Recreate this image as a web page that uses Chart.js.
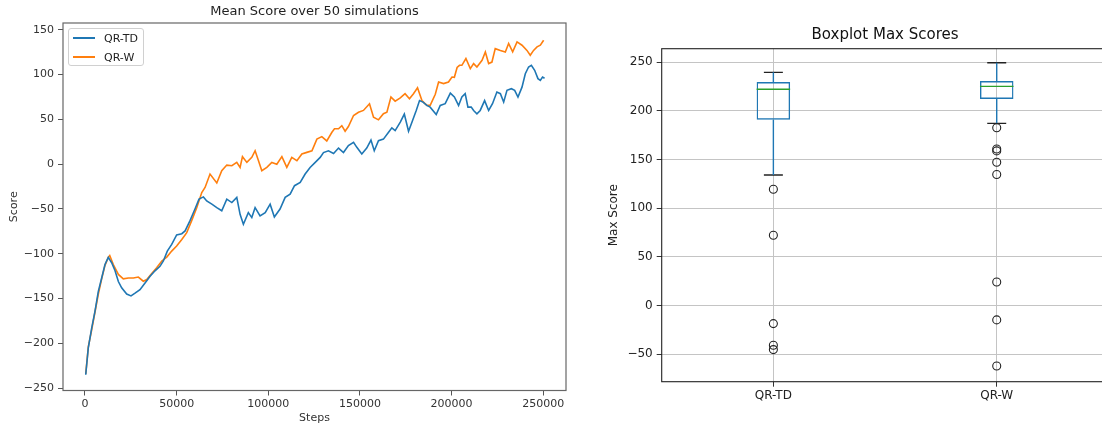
<!DOCTYPE html>
<html>
<head>
<meta charset="utf-8">
<script src="https://cdn.jsdelivr.net/npm/chart.js@4.4.1/dist/chart.umd.min.js"></script>
<style>
  html, body { margin: 0; padding: 0; background: #fff; overflow: hidden; }
  body { width: 1102px; height: 428px; position: relative; font-family: "DejaVu Sans", sans-serif; }
  canvas { position: absolute; top: 0; }
  #scoreChart { left: 0; }
  #boxChart { left: 590px; }
  .legend { position: absolute; left: 68px; top: 28px; width: 74px; height: 36px; border: 1px solid #d0d0d0;
            border-radius: 3px; background: rgba(255,255,255,0.8); font-size: 11px; color: #222; }
  .legend div { position: absolute; left: 4px; height: 13px; line-height: 13px; white-space: nowrap; }
  .legend span { display: inline-block; width: 22px; height: 1.6px; vertical-align: middle; margin-right: 9px; position: relative; top: -1px; }
</style>
</head>
<body>
<canvas id="scoreChart" width="590" height="428"></canvas>
<canvas id="boxChart" width="530" height="428"></canvas>
<div class="legend" id="legend"></div>
<script>
// mean score curves
const seriesNames = ["QR-TD", "QR-W"];
const seriesColors = ["#1f77b4", "#ff7f0e"];

const tdSteps = [400, 1800, 3650, 5460, 7270, 9100, 10900, 12700, 14550, 16400, 18200, 20000, 22750, 25100, 27300,
  30000, 32750, 35500, 38200, 40900, 42750, 44900, 47300, 50000, 52800, 54600, 57300, 60000, 62200, 64600, 66400,
  69200, 71900, 74600, 77350, 80100, 82800, 84600, 86400, 89100, 91000, 92800, 95500, 98300, 101000, 103300, 106400,
  109200, 111900, 114300, 117400, 120100, 122800, 125600, 128300, 130100, 132800, 135600, 138300, 141000, 143700,
  146500, 148300, 151000, 153700, 156000, 157800, 160100, 162800, 165600, 167400, 169200, 172000, 174200, 176500,
  178400, 180700, 182500, 184400, 186500, 188300, 191600, 193800, 196500, 199300, 201500, 203800, 205600, 207400,
  208900, 210700, 212000, 213800, 215600, 218000, 220200, 222300, 224700, 226600, 228400, 230200, 232600, 234400,
  236200, 238400, 240200, 242000, 243500, 245300, 247100, 248400, 249600, 250700];
const tdScores = [-235, -205, -183, -164, -142, -127, -112, -104, -110, -119, -131, -138, -145, -147, -144,
  -140, -132.5, -125, -119, -114, -108, -97, -89.5, -79, -77.6, -74.5, -63, -50, -39, -36.5, -41,
  -44.6, -48.4, -52, -39, -42.8, -37, -56, -67, -54, -59.6, -48.4, -57.7, -54, -44.6, -58.9, -50,
  -37, -33.4, -24, -20.4, -11, -3.6, 2, 7.6, 13, 15, 12, 18, 13, 20.7,
  24.4, 18.8, 11.4, 18, 27, 15, 26.3, 28, 35.6, 40.6, 37.5, 47, 56, 36.8,
  47, 60, 71, 69.3, 65.6, 63.7, 55.5, 65.6, 67.5, 79.4, 75, 65.6, 75, 78.7,
  63.7, 63.7, 60, 56.3, 60, 71, 60, 67.5, 80.5, 78.7, 69.3, 82.4, 84.3, 82.4,
  75, 86, 101, 108.5, 110.4, 104.8, 95.5, 93.6, 97.3, 96];

const wSteps = [400, 1800, 3650, 5460, 7270, 9100, 10900, 12700, 13500, 15450, 18200, 20900, 23650, 26400, 29100,
  31800, 33700, 36400, 39100, 41900, 44600, 47300, 50000, 52800, 55500, 58200, 61000, 63700, 65500, 68200, 71900,
  74600, 77350, 80100, 82800, 84600, 85900, 88300, 91000, 92800, 94600, 96450, 99200, 101900, 104650, 107400,
  110100, 112800, 115600, 118300, 121000, 123800, 126500, 129200, 131900, 134700, 136100, 138300, 140100, 141900,
  143700, 146500, 149200, 151900, 155200, 157400, 160100, 162800, 164700, 166900, 169200, 172000, 174600, 177000,
  179200, 181400, 183800, 186500, 188300, 191100, 192900, 195600, 198300, 200200, 201500, 203000, 204300, 205600,
  207800, 210200, 212000, 213800, 216600, 218400, 220200, 222000, 223800, 226600, 229300, 231100, 233300, 235700,
  238400, 241100, 242900, 244700, 246600, 248400, 250200];
const wScores = [-234, -204, -185, -165, -145, -128, -113, -104, -102, -112, -123, -128, -127, -127, -126,
  -130.6, -128.7, -122, -115.6, -108, -103.7, -97, -91.4, -84, -76.4, -63, -48.4, -31.6, -26, -11, -21,
  -7.3, -1, -1.7, 2, -3.6, 8.4, 2, 7.6, 15, 4, -7.3, -3.6, 2, 0, 8.4,
  -3.6, 7.6, 4, 11.4, 13.2, 15, 28, 30.8, 26, 35.6, 39.5, 39.5, 43, 36.8,
  42, 54.4, 58, 60, 67.5, 52.5, 49.5, 56.3, 58, 75, 70.4, 74, 78.7, 73,
  78.7, 85.4, 71, 65.6, 65.6, 78, 91.7, 90, 91.7, 97.3, 97, 108, 110.4, 110.4,
  118, 106.7, 112.3, 108.5, 116, 125.3, 112.3, 114, 129, 127, 125.3, 134.7, 125.3, 136.5,
  132.8, 127, 121.6, 127, 131, 132.8, 138.4];

const stepTicks = [0, 50000, 100000, 150000, 200000, 250000];
const scoreTicks = [-250, -200, -150, -100, -50, 0, 50, 100, 150];

// max score distribution per method
const methods = ["QR-TD", "QR-W"];
const whiskerLow = [134.2, 187.3];
const q1 = [191, 212.3];
const median = [222.3, 225.3];
const q3 = [229.8, 230.8];
const whiskerHigh = [239.7, 249.6];
const tdOutliers = [119.5, 72.3, -18.5, -40.7, -45.2];
const wOutliers = [182.8, 161, 159, 147.3, 134.8, 24.3, -14.7, -62];
const maxTicks = [-50, 0, 50, 100, 150, 200, 250];

const FONT = "DejaVu Sans";
const boxWidth = 0.15;
const capWidth = 0.085;

const framePlugin = {
  id: "frame",
  afterDatasetsDraw(chart, args, opts) {
    const { ctx, chartArea: a } = chart;
    ctx.save();
    ctx.strokeStyle = opts.color;
    ctx.lineWidth = opts.width;
    ctx.strokeRect(a.left, a.top, a.right - a.left, a.bottom - a.top);
    ctx.restore();
  }
};

const fixTicks = values => scale => { scale.ticks = values.map(v => ({ value: v })); };
const toPoints = (xs, ys) => xs.map((x, i) => ({ x, y: ys[i] }));

// legend for the line chart
const legend = document.getElementById("legend");
seriesNames.forEach((name, i) => {
  const row = document.createElement("div");
  row.style.top = (3 + i * 19) + "px";
  row.innerHTML = '<span style="background:' + seriesColors[i] + '"></span>' + name;
  legend.appendChild(row);
});

new Chart(document.getElementById("scoreChart"), {
  type: "line",
  data: {
    datasets: [
      { label: seriesNames[0], data: toPoints(tdSteps, tdScores), borderColor: seriesColors[0], borderWidth: 1.6,
        pointRadius: 0, tension: 0 },
      { label: seriesNames[1], data: toPoints(wSteps, wScores), borderColor: seriesColors[1], borderWidth: 1.6,
        pointRadius: 0, tension: 0 }
    ]
  },
  options: {
    responsive: false,
    animation: false,
    events: [],
    layout: { padding: { left: 0, right: 24, top: 0, bottom: 0 } },
    plugins: {
      legend: { display: false },
      tooltip: { enabled: false },
      title: { display: true, text: "Mean Score over 50 simulations", fullSize: false, color: "#222",
               font: { family: FONT, size: 13, weight: "normal" }, padding: { top: 4, bottom: 3.4 } },
      frame: { color: "#666", width: 1.2 }
    },
    scales: {
      x: {
        type: "linear", min: -12000, max: 262400,
        afterBuildTicks: fixTicks(stepTicks),
        afterFit: s => { s.height = 37.5; },
        border: { display: false },
        grid: { drawOnChartArea: false, tickLength: 5, tickColor: "#555" },
        ticks: { color: "#333", font: { family: FONT, size: 11 }, padding: 2, maxRotation: 0, callback: v => String(v) },
        title: { display: true, text: "Steps", color: "#333", font: { family: FONT, size: 11 }, padding: { top: 0, bottom: 3 } }
      },
      y: {
        min: -252.6, max: 157.6,
        afterBuildTicks: fixTicks(scoreTicks),
        afterFit: s => { s.width = 63; },
        border: { display: false },
        grid: { drawOnChartArea: false, tickLength: 5, tickColor: "#555" },
        ticks: { color: "#333", font: { family: FONT, size: 11 }, padding: 4, callback: v => String(v).replace("-", "\u2212") },
        title: { display: true, text: "Score", color: "#333", font: { family: FONT, size: 11 }, padding: { top: 7.4, bottom: 0 } }
      }
    }
  },
  plugins: [framePlugin]
});

// boxes, whiskers, caps and medians
const boxData = methods.map((m, i) => ({ x: i + 1, y: [q1[i], q3[i]] }));
const segments = [];
methods.forEach((m, i) => {
  const x = i + 1;
  segments.push({ pts: [{ x, y: q1[i] }, { x, y: whiskerLow[i] }], color: "#1f77b4" });
  segments.push({ pts: [{ x, y: q3[i] }, { x, y: whiskerHigh[i] }], color: "#1f77b4" });
  segments.push({ pts: [{ x: x - capWidth / 2, y: whiskerLow[i] }, { x: x + capWidth / 2, y: whiskerLow[i] }], color: "#222" });
  segments.push({ pts: [{ x: x - capWidth / 2, y: whiskerHigh[i] }, { x: x + capWidth / 2, y: whiskerHigh[i] }], color: "#222" });
  segments.push({ pts: [{ x: x - boxWidth / 2, y: median[i] }, { x: x + boxWidth / 2, y: median[i] }], color: "#2ca02c" });
});
const outlierData = tdOutliers.map(v => ({ x: 1, y: v })).concat(wOutliers.map(v => ({ x: 2, y: v })));

new Chart(document.getElementById("boxChart"), {
  type: "bar",
  data: {
    datasets: [
      { data: boxData, backgroundColor: "rgba(0,0,0,0)", borderColor: "#1f77b4", borderWidth: 1.4,
        borderSkipped: false, barPercentage: boxWidth, categoryPercentage: 1, order: 3 },
      ...segments.map(s => ({ type: "line", data: s.pts, borderColor: s.color, borderWidth: 1.4,
        pointRadius: 0, order: 2 })),
      { type: "scatter", data: outlierData, pointRadius: 4, pointBorderWidth: 1.1, pointBorderColor: "#222",
        pointBackgroundColor: "rgba(0,0,0,0)", order: 1 }
    ]
  },
  options: {
    responsive: false,
    animation: false,
    events: [],
    layout: { padding: { left: 0, right: 11.6, top: 0, bottom: 0 } },
    plugins: {
      legend: { display: false },
      tooltip: { enabled: false },
      title: { display: true, text: "Boxplot Max Scores", fullSize: false, color: "#111",
               font: { family: FONT, size: 15, weight: "normal" }, padding: { top: 26, bottom: 4.7 } },
      frame: { color: "#222", width: 1.1 }
    },
    scales: {
      x: {
        type: "linear", min: 0.5, max: 2.5, offset: false,
        afterBuildTicks: fixTicks([1, 2]),
        afterFit: s => { s.height = 46.3; },
        border: { display: false },
        grid: { offset: false, color: "#c4c4c4", lineWidth: 1, tickLength: 5, tickColor: "#333" },
        ticks: { color: "#222", font: { family: FONT, size: 12 }, padding: 2, maxRotation: 0, callback: v => methods[v - 1] }
      },
      y: {
        min: -78.2, max: 264,
        afterBuildTicks: fixTicks(maxTicks),
        afterFit: s => { s.width = 71.7; },
        border: { display: false },
        grid: { color: "#c4c4c4", lineWidth: 1, tickLength: 5, tickColor: "#333" },
        ticks: { color: "#222", font: { family: FONT, size: 12 }, padding: 4, callback: v => String(v).replace("-", "\u2212") },
        title: { display: true, text: "Max Score", color: "#222", font: { family: FONT, size: 12 }, padding: { top: 16.3, bottom: 0 } }
      }
    }
  },
  plugins: [framePlugin]
});
</script>
</body>
</html>
